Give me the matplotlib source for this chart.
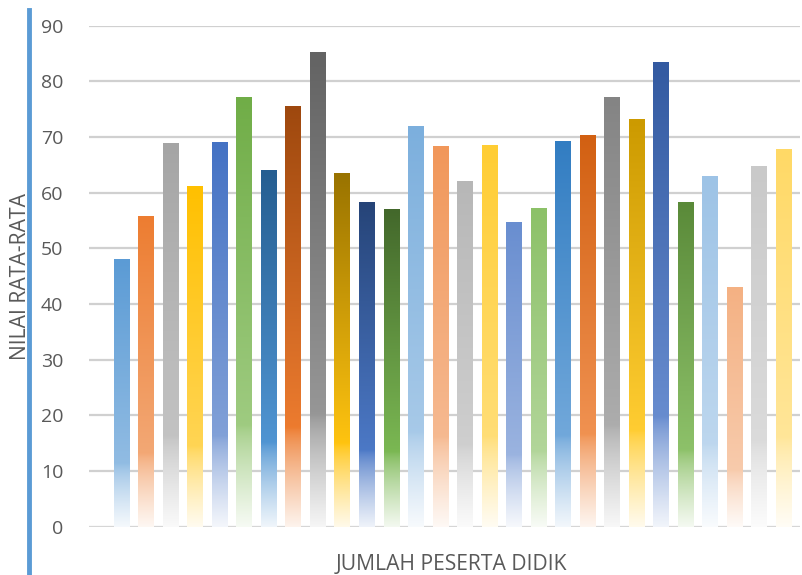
import colorsys
import numpy as np
import matplotlib
matplotlib.use("Agg")
import matplotlib.pyplot as plt
from matplotlib.colors import to_rgb
from matplotlib.lines import Line2D

values = [48.1, 55.8, 68.9, 61.2, 69.1, 77.2, 64.0, 75.6, 85.3, 63.5,
          58.3, 57.0, 71.9, 68.4, 62.1, 68.6, 54.7, 57.2, 69.3, 70.3,
          77.2, 73.2, 83.5, 58.3, 63.0, 43.1, 64.8, 67.8]
colors = ["#5B9BD5", "#ED7D31", "#A5A5A5", "#FFC000", "#4472C4", "#70AD47",
          "#255E91", "#9E480E", "#636363", "#997300", "#264478", "#43682B",
          "#7CAFDD", "#F1975A", "#B7B7B7", "#FFCD33", "#698ED0", "#8CC168",
          "#327DC2", "#D26012", "#848484", "#CC9A00", "#335AA1", "#5A8A39",
          "#9DC3E6", "#F4B183", "#C9C9C9", "#FFD966"]
yticks = [0, 10, 20, 30, 40, 50, 60, 70, 80, 90]
ylabel = "NILAI RATA-RATA"
xlabel = "JUMLAH PESERTA DIDIK"

plt.rcParams['font.family'] = ['Open Sans', 'DejaVu Sans']
TXT = "#595959"


def lighten(c, k):
    r, g, b = to_rgb(c)
    h, l, s = colorsys.rgb_to_hls(r, g, b)
    l = l + (1 - l) * k
    return np.array(colorsys.hls_to_rgb(h, l, s))


def gradient(c, n=300):
    t = np.linspace(0, 1, n)
    out = np.zeros((n, 1, 3))
    f = 0.235
    top = np.array(to_rgb(c))
    mid = lighten(c, 0.33)
    bot = lighten(c, 0.94)
    for i, tt in enumerate(t):
        if tt >= f:
            a = (tt - f) / (1 - f)
            col = mid * (1 - a) + top * a
        else:
            a = (1 - tt / f) ** 0.75
            col = mid * (1 - a) + bot * a
        out[i, 0] = col
    return out


fig = plt.figure(figsize=(8.03, 5.75), dpi=100)
ax = fig.add_axes([89 / 803, (575 - 526.7) / 575, (800 - 89) / 803, (526.7 - 25.7) / 575])

x = np.arange(len(values))
w = 0.63
bars = ax.bar(x, values, width=w, color="none", edgecolor="none", zorder=3)
for xi, v, c, b in zip(x, values, colors, bars):
    im = ax.imshow(gradient(c), extent=(xi - w / 2, xi + w / 2, 0, v), origin="lower",
                   aspect="auto", zorder=3, interpolation="bilinear")
    im.set_clip_path(b)

ax.set_xlim(-1.325, 27.67)
ax.set_ylim(0, 90)
ax.set_yticks(yticks)
ax.set_xticks([])
ax.yaxis.grid(True, color="#D0D0D0", linewidth=1.6, zorder=0)
ax.set_axisbelow(True)
for s in ax.spines.values():
    s.set_visible(False)
ax.axhline(0, color="#D9D9D9", linewidth=1.8, zorder=2)
ax.tick_params(axis="y", length=0, labelsize=14, labelcolor=TXT, pad=18.5)

ty = fig.text(20.5 / 803, 1 - 276 / 575, ylabel, rotation=90, ha="center", va="center",
              fontsize=14, color=TXT)
tx = fig.text(451.5 / 803, 1 - 565 / 575, xlabel, ha="center", va="center",
              fontsize=14, color=TXT)

# fit label lengths to the reference extents
fig.canvas.draw()
r = fig.canvas.get_renderer()
for t, target, vertical in ((ty, 168, True), (tx, 233, False)):
    bb = t.get_window_extent(r)
    cur = bb.height if vertical else bb.width
    t.set_fontsize(t.get_fontsize() * target / cur)

fig.add_artist(Line2D([29 / 803, 29 / 803], [0, 1 - 10 / 575], transform=fig.transFigure,
                      color="#5B9BD5", linewidth=3.5))

fig.savefig("out.png", dpi=100)
